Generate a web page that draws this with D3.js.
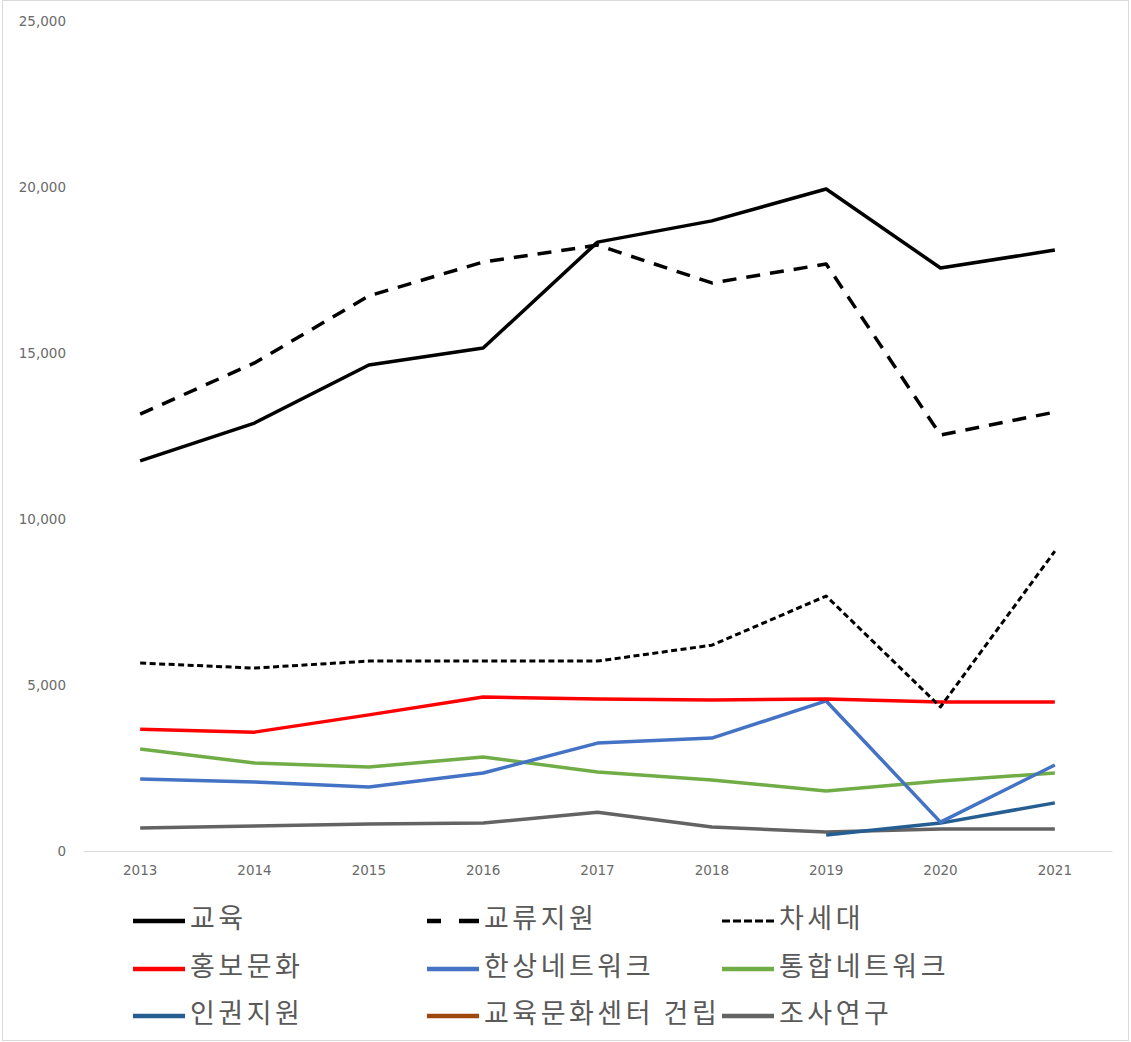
<!DOCTYPE html>
<html>
<head>
<meta charset="utf-8">
<script src="https://cdn.jsdelivr.net/npm/d3@7/dist/d3.min.js"></script>
<style>
  html, body { margin: 0; padding: 0; background: #fff; }
  svg { display: block; }
</style>
</head>
<body>
<svg id="chart" width="1131" height="1042"></svg>
<script>
// ---- data ----
const years = ["2013","2014","2015","2016","2017","2018","2019","2020","2021"];
const yTicks = [0, 5000, 10000, 15000, 20000, 25000];

const edu        = [11750, 12890, 14640, 15150, 18340, 18980, 19940, 17560, 18100];
const exchange   = [13160, 14700, 16720, 17740, 18250, 17110, 17680, 12530, 13220];
const nextGen    = [5660, 5510, 5720, 5720, 5720, 6200, 7680, 4340, 9030];
const promo      = [3670, 3580, 4100, 4640, 4580, 4550, 4580, 4490, 4490];
const hansang    = [2170, 2080, 1930, 2350, 3250, 3400, 4520, 870, 2590];
const unified    = [3070, 2650, 2530, 2830, 2380, 2140, 1810, 2110, 2350];
const humanRights= [null, null, null, null, null, null, 480, 840, 1450];
const eduCenter  = [null, null, null, null, null, null, null, null, null];
const research   = [690, 750, 810, 840, 1170, 720, 570, 660, 660];

const seriesNames = ["교육","교류지원","차세대","홍보문화","한상네트워크","통합네트워크","인권지원","교육문화센터 건립","조사연구"];
const seriesValues = [edu, exchange, nextGen, promo, hansang, unified, humanRights, eduCenter, research];
const seriesColors = ["#000000","#000000","#000000","#FF0000","#4472C4","#70AD47","#255E91","#9E480E","#636363"];
const seriesDash   = [null, "14,10", "6,3.5", null, null, null, null, null, null];
const seriesWidth  = [3.5, 3.5, 3, 3.5, 3.5, 3.5, 3.5, 3.5, 3.5];

// ---- layout ----
const svg = d3.select("#chart");
const W = 1131, H = 1042;
const plot = { left: 83, right: 1112, top: 21, bottom: 851 };

svg.append("rect").attr("x", 2.5).attr("y", 0.5).attr("width", W - 5).attr("height", H - 2)
  .attr("fill", "#fff").attr("stroke", "#d9d9d9").attr("stroke-width", 1);

const x = d3.scaleBand().domain(years).range([plot.left, plot.right]);
const xc = d => x(d) + x.bandwidth() / 2;
const y = d3.scaleLinear().domain([0, 25000]).range([plot.bottom, plot.top]);

// y axis labels (no line)
const yAxis = d3.axisLeft(y).tickValues(yTicks).tickFormat(d3.format(",")).tickSize(0).tickPadding(0);
const gy = svg.append("g").attr("transform", "translate(66,0)").call(yAxis);
gy.select(".domain").remove();
gy.selectAll("text").attr("fill", "#6a6a6a").style("font-family", "'DejaVu Sans', sans-serif").style("font-size", "13.5px");

// x axis
const xAxis = d3.axisBottom(x).tickSize(0).tickPadding(14);
const gx = svg.append("g").attr("transform", `translate(0,${plot.bottom})`).call(xAxis);
gx.select(".domain").attr("stroke", "#d9d9d9").attr("stroke-width", 1.2);
gx.selectAll("text").attr("fill", "#6a6a6a").style("font-family", "'DejaVu Sans', sans-serif").style("font-size", "13.5px");

// lines
const line = d3.line().defined(d => d.v !== null).x(d => xc(d.year)).y(d => y(d.v));
const order = [8, 7, 6, 5, 4, 3, 2, 1, 0];
order.forEach(i => {
  const data = years.map((yr, k) => ({ year: yr, v: seriesValues[i][k] }));
  svg.append("path")
    .datum(data)
    .attr("d", line)
    .attr("fill", "none")
    .attr("stroke", seriesColors[i])
    .attr("stroke-width", seriesWidth[i])
    .attr("stroke-linejoin", "round")
    .attr("stroke-dasharray", seriesDash[i]);
});

// legend
const colX = [133, 427, 722];
const rowY = [918, 966, 1013];
const legend = svg.append("g");
seriesNames.forEach((name, i) => {
  const cx = colX[i % 3], cy = rowY[Math.floor(i / 3)];
  const g = legend.append("g").attr("transform", `translate(${cx},${cy})`);
  g.append("line").attr("x1", 0).attr("x2", 52).attr("y1", 3).attr("y2", 3)
    .attr("stroke", seriesColors[i])
    .attr("stroke-width", i === 2 ? 3 : 4.5)
    .attr("stroke-dasharray", i === 1 ? "14,18,20" : (i === 2 ? "8,3" : null));
  g.append("text").attr("x", 57).attr("y", 0).attr("dy", "0.36em")
    .attr("fill", "#595959")
    .style("font-family", "'Noto Sans CJK KR', sans-serif")
    .style("font-size", "27px")
    .style("letter-spacing", "3.5px")
    .text(name);
});
</script>
</body>
</html>
